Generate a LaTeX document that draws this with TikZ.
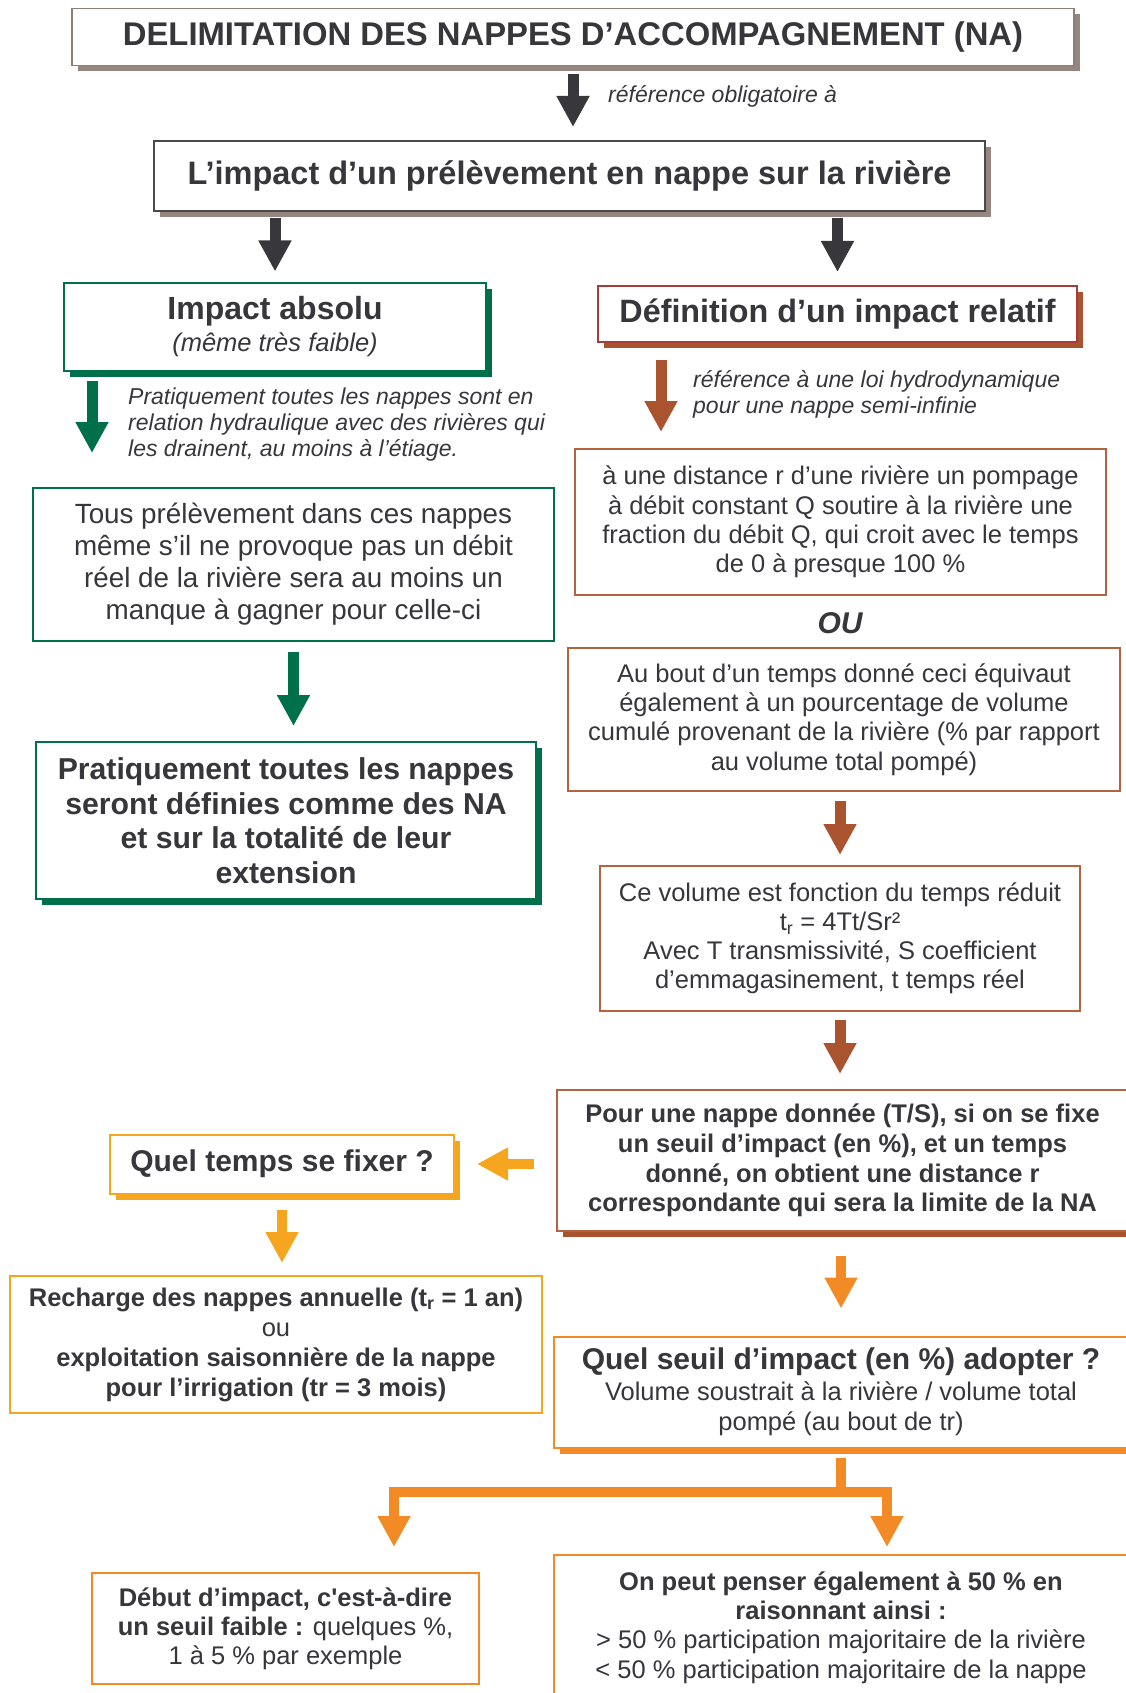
\documentclass[tikz,border=0pt]{standalone}
\usepackage{fontspec}
\setmainfont{Liberation Sans}
\usetikzlibrary{arrows.meta,shadows,calc}
\definecolor{txt}{HTML}{36363B}
\definecolor{dkarr}{HTML}{38373C}
\definecolor{gshad}{HTML}{958680}
\definecolor{gbord}{HTML}{8C7E78}
\definecolor{ibord}{HTML}{4A4A4E}
\definecolor{grn}{HTML}{00704A}
\definecolor{brn}{HTML}{A9532F}
\definecolor{brnb}{HTML}{B5633F}
\definecolor{redb}{HTML}{A53C3C}
\definecolor{yor}{HTML}{F6A51F}
\definecolor{org}{HTML}{F28A25}
\newcommand\fs[2]{\fontsize{#1}{#2}\selectfont}
\begin{document}
\begin{tikzpicture}[x=1pt,y=-1pt,
  every node/.style={text=txt, inner sep=0pt},
  bx/.style={draw=#1, line width=2pt, fill=white, rectangle, align=center},
  shd/.style={general shadow={fill=#1, shadow xshift=6pt, shadow yshift=-6pt}},
  blk/.style={line width=11pt, draw=#1, line join=miter, -{Triangle[width=31pt,length=31pt]}},
  ann/.style={font=\fs{23}{26}\itshape, anchor=west, align=left}
]
\useasboundingbox (0,0) rectangle (1125,1693);

% top
\node[bx=gbord, line width=1.5pt, shd=gshad, minimum width=1002pt, minimum height=57pt, font=\fs{32.8}{36}\bfseries] (delim) at (573,37) {DELIMITATION DES NAPPES D’ACCOMPAGNEMENT (NA)};
\node[bx=ibord, shd=gshad, minimum width=831pt, minimum height=70pt, font=\fs{32.5}{36}\bfseries] (impact) at (569.5,176) {L’impact d’un prélèvement en nappe sur la rivière};
\draw[blk=dkarr, shorten <=8pt, shorten >=13pt] (delim.south) -- (delim.south |- impact.north);
\node[ann] (lab1) at (608,96) {référence obligatoire à};

% left column
\node[bx=grn, shd=grn, minimum width=422pt, minimum height=87pt, font=\fs{25.5}{32}] (absolu) at (275,327) {{\fs{32}{32}\bfseries Impact absolu}\\{\itshape (même très faible)}};
\draw[blk=dkarr, shorten <=6pt, shorten >=11pt] (impact.south -| absolu.north) -- (absolu.north);
\coordinate (ga1) at (92,453);
\draw[blk=grn, shorten <=9pt] (absolu.south -| ga1) -- (ga1);
\node[ann] (ann1) at (128,425) {Pratiquement toutes les nappes sont en\\relation hydraulique avec des rivières qui\\les drainent, au moins à l’étiage.};
\node[bx=grn, minimum width=521pt, minimum height=153pt, font=\fs{27.8}{32}] (tous) at (293.5,564) {Tous prélèvement dans ces nappes\\même s’il ne provoque pas un débit\\réel de la rivière sera au moins un\\manque à gagner pour celle-ci};
\node[bx=grn, shd=grn, minimum width=500pt, minimum height=157pt, font=\fs{30.2}{34.5}\bfseries] (prat) at (286,820.5) {Pratiquement toutes les nappes\\seront définies comme des NA\\et sur la totalité de leur\\extension};
\draw[blk=grn, shorten <=10pt, shorten >=15pt] (tous.south) -- (tous.south |- prat.north);

% right column
\node[bx=redb, shd=brn, minimum width=479pt, minimum height=56pt, font=\fs{32.3}{36}\bfseries] (def) at (837.5,314) {Définition d’un impact relatif};
\draw[blk=dkarr, shorten <=6pt, shorten >=13pt] (impact.south -| def.north) -- (def.north);
\coordinate (ba1) at (661,432);
\draw[blk=brn, shorten <=17pt] (def.south -| ba1) -- (ba1);
\node[ann] (ann2) at (693,394) {référence à une loi hydrodynamique\\pour une nappe semi-infinie};
\node[bx=brnb, minimum width=531pt, minimum height=146pt, font=\fs{25.5}{29.3}] (dist) at (840.5,522) {à une distance r d’une rivière un pompage\\à débit constant Q soutire à la rivière une\\fraction du débit Q, qui croit avec le temps\\de 0 à presque 100 \%};
\node[font=\fs{30}{30}\bfseries\itshape] (ou) at (840,623) {OU};
\node[bx=brnb, minimum width=552pt, minimum height=143pt, font=\fs{25.5}{29.3}] (aubout) at (844,719.5) {Au bout d’un temps donné ceci équivaut\\également à un pourcentage de volume\\cumulé provenant de la rivière (\% par rapport\\au volume total pompé)};
\node[bx=brnb, minimum width=480pt, minimum height=145pt, font=\fs{25.5}{29}] (cevol) at (840,938.5) {Ce volume est fonction du temps réduit\\t\textsubscript{r} = 4Tt/Sr²\\Avec T transmissivité, S coefficient\\d’emmagasinement, t temps réel};
\draw[blk=brn, shorten <=9pt, shorten >=10pt] (aubout.south -| cevol.north) -- (cevol.north);
\node[bx=brnb, shd=brn, minimum width=571pt, minimum height=141pt, font=\fs{25.5}{29.7}\bfseries] (pour) at (842.5,1160.5) {Pour une nappe donnée (T/S), si on se fixe\\un seuil d’impact (en \%), et un temps\\donné, on obtient une distance r\\correspondante qui sera la limite de la NA};
\draw[blk=brn, shorten <=8pt, shorten >=15pt] (cevol.south) -- (cevol.south |- pour.north);

% lower left
\node[bx=yor, shd=yor, minimum width=344pt, minimum height=59pt, font=\fs{30}{34}\bfseries] (qtemps) at (282,1164) {Quel temps se fixer ?};
\draw[blk=yor, line width=10pt, shorten <=22pt, shorten >=22pt] (pour.west |- qtemps.east) -- (qtemps.east);
\node[bx=yor, minimum width=532pt, minimum height=137pt, font=\fs{25.5}{30}\bfseries] (recharge) at (276,1344.5) {Recharge des nappes annuelle (t\textsubscript{r} = 1 an)\\{\mdseries ou}\\exploitation saisonnière de la nappe\\pour l’irrigation (tr = 3 mois)};
\draw[blk=yor, line width=10pt, shorten <=15pt, shorten >=12pt] (qtemps.south) -- (qtemps.south |- recharge.north);

% lower right
\node[bx=org, shd=org, minimum width=574pt, minimum height=111pt, font=\fs{25.5}{30.5}] (seuil) at (841,1392) {{\fs{30}{30}\bfseries Quel seuil d’impact (en \%) adopter ?}\\Volume soustrait à la rivière / volume total\\pompé (au bout de tr)};
\draw[blk=org, line width=10pt, shorten <=24pt, shorten >=27pt] (pour.south -| seuil.north) -- (seuil.north);

\node[bx=org, minimum width=387pt, minimum height=111pt, font=\fs{25.5}{29}] (debut) at (285.5,1628.5) {\textbf{Début d’impact, c\textquotesingle est-à-dire}\\\textbf{un seuil faible :} quelques \%,\\1 à 5 \% par exemple};
\node[bx=org, minimum width=574pt, minimum height=145pt, font=\fs{25.5}{29.3}] (onpeut) at (841,1627.5) {\textbf{On peut penser également à 50 \% en}\\\textbf{raisonnant ainsi :}\\> 50 \% participation majoritaire de la rivière\\< 50 \% participation majoritaire de la nappe};

\coordinate (brY) at (0,1492);
\coordinate (brC) at (seuil.south |- brY);
\coordinate (brL) at (394,1492);
\coordinate (brR) at (887,1492);
\draw[org, line width=10pt, shorten <=9pt] (seuil.south) -- (brC);
\draw[blk=org, line width=10pt, shorten >=25pt] (brC) -- (brL) -- (brL |- debut.north);
\draw[blk=org, line width=10pt, shorten >=7pt] (brC) -- (brR) -- (brR |- onpeut.north);
\end{tikzpicture}
\end{document}
